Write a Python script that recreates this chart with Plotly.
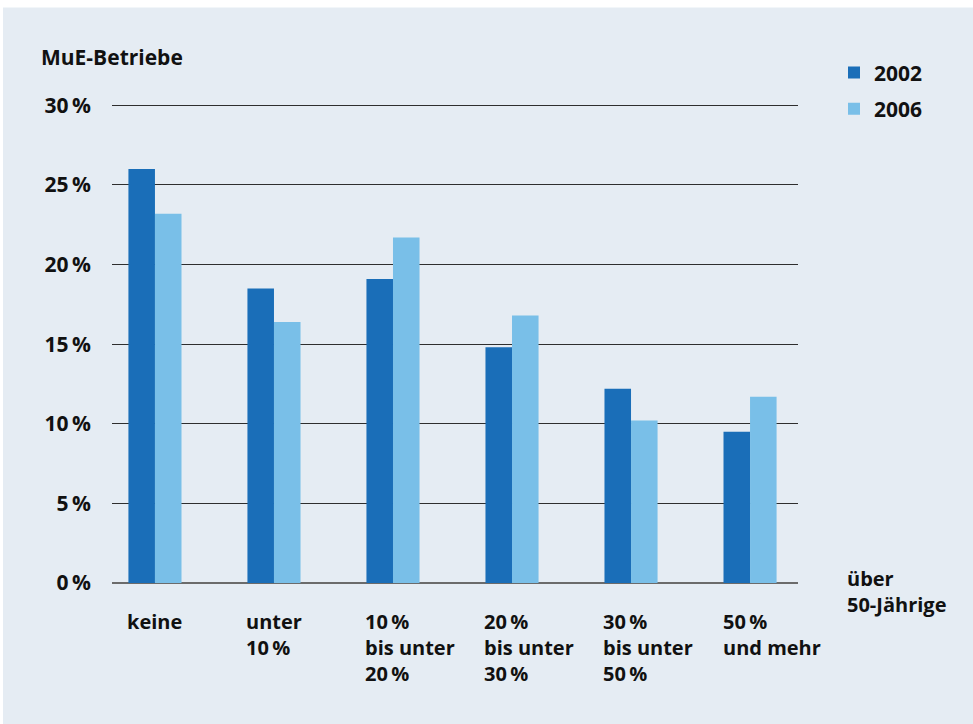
import plotly.graph_objects as go

# Share of companies by proportion of employees over 50
categories = ["keine", "unter<br>10\u2009%", "10\u2009%<br>bis unter<br>20\u2009%",
              "20\u2009%<br>bis unter<br>30\u2009%", "30\u2009%<br>bis unter<br>50\u2009%",
              "50\u2009%<br>und mehr"]
series_names = ["2002", "2006"]
values_2002 = [26.0, 18.5, 19.1, 14.8, 12.2, 9.5]
values_2006 = [23.2, 16.4, 21.7, 16.8, 10.2, 11.7]
y_ticks = [0, 5, 10, 15, 20, 25, 30]
y_tick_labels = [f"{v}\u2009%" for v in y_ticks]
axis_title = "MuE-Betriebe"
x_title = "über<br>50-Jährige"

colors = ["#1a6eb8", "#79bfe8"]
FONT = "Open Sans"
TXT = dict(family=FONT, size=21, weight="bold", color="#111111")
LBL = dict(family=FONT, size=20, weight="bold", color="#111111")
W, H = 973, 724
YMAX = 30.4
L, R, B = 112, 175, 141
ph = (583 - 105) * YMAX / 30
T = H - B - ph
pw = W - L - R


def py(pix):
    """pixel row -> paper y"""
    return (583 - pix) / ph


def px(pix):
    """pixel column -> paper x"""
    return (pix - L) / pw


x_pos = list(range(len(categories)))
fig = go.Figure()
for name, vals, col in zip(series_names, [values_2002, values_2006], colors):
    fig.add_trace(go.Bar(x=x_pos, y=vals, name=name, marker=dict(color=col, line=dict(width=0)),
                         legendgroup=name))

bar_group = 0.446
fig.update_layout(
    width=W, height=H,
    margin=dict(l=L, r=R, t=T, b=B, pad=0),
    paper_bgcolor="#e5ecf3", plot_bgcolor="rgba(0,0,0,0)",
    barmode="group", bargap=1 - bar_group, bargroupgap=0,
    font=TXT,
    legend=dict(x=px(834), y=py(52), xanchor="left", yanchor="top",
                bgcolor="rgba(0,0,0,0)", traceorder="grouped", tracegroupgap=6,
                font=TXT),
    xaxis=dict(range=[-0.361, 5.403], showgrid=False, showticklabels=False, zeroline=False,
               showline=False, fixedrange=True),
    yaxis=dict(range=[0, YMAX], tickvals=y_ticks, ticktext=y_tick_labels, showgrid=True,
               gridcolor="#2e2e2e", gridwidth=1.3, zeroline=True, zerolinecolor="#6b6b6b",
               zerolinewidth=2.2, ticks="", ticklabelstandoff=20,
               tickfont=TXT, showline=False, fixedrange=True),
)

# white strips framing the tinted panel
fig.add_shape(type="rect", xref="paper", yref="paper", layer="below",
              x0=px(-60), x1=px(W + 60), y0=py(7), y1=py(-20),
              fillcolor="white", line=dict(width=0))
fig.add_shape(type="rect", xref="paper", yref="paper", layer="below",
              x0=px(-60), x1=px(3), y0=py(H + 20), y1=py(-20),
              fillcolor="white", line=dict(width=0))

# category labels beneath each group
for i, lab in enumerate(categories):
    fig.add_annotation(x=i - bar_group / 2, xref="x", y=py(606), yref="paper", text=lab,
                       xanchor="left", yanchor="top", align="left", xshift=-3,
                       showarrow=False, font=LBL)

fig.add_annotation(x=px(42), xref="paper", y=py(57), yref="paper", text=axis_title,
                   xanchor="left", yanchor="middle", xshift=-3, showarrow=False, font=TXT)
fig.add_annotation(x=px(848), xref="paper", y=py(563), yref="paper", text=x_title,
                   xanchor="left", yanchor="top", align="left", xshift=-3,
                   showarrow=False, font=LBL)

fig.write_html("out.html")
